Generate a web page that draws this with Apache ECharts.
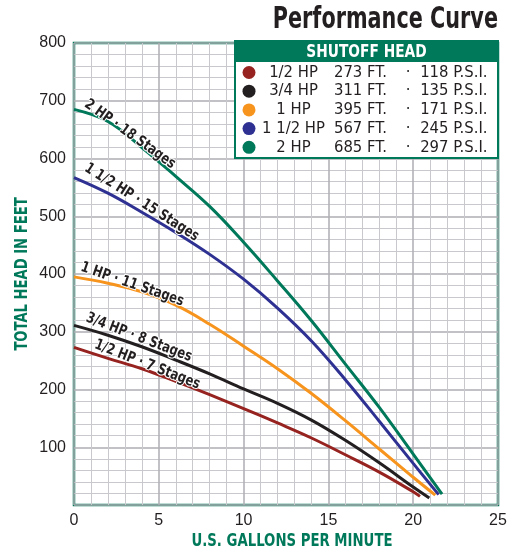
<!DOCTYPE html>
<html>
<head>
<meta charset="utf-8">
<script src="https://cdn.jsdelivr.net/npm/echarts@6/dist/echarts.min.js"></script>
<style>html,body{margin:0;padding:0;background:#fff}#c{width:508px;height:547px}</style>
</head>
<body>
<div id="c"></div>
<script>
// ---- data ----
const gpm = [0, 2, 4, 6, 8, 10, 12, 14, 16, 18, 20];
const headHalf    = [273, 254, 236, 214, 191, 167, 142, 116, 87, 57, 23];
const headThree4  = [311, 294, 274, 251, 227, 201, 176, 147, 112, 73, 31];
const headOne     = [395, 384, 369, 346, 313, 275, 236, 193, 146, 97, 48];
const headOneHalf = [567, 540, 507, 472, 434, 391, 341, 284, 217, 145, 72];
const headTwo     = [685, 664, 619, 569, 517, 455, 388, 319, 244, 169, 88];
const endGpm  = [20.4, 20.95, 21.3, 21.5, 21.7];
const endHead = [15, 12, 17, 18, 19];
const seriesNames = ['1/2 HP', '3/4 HP', '1 HP', '1 1/2 HP', '2 HP'];
const shutoffFt  = ['273 FT.', '311 FT.', '395 FT.', '567 FT.', '685 FT.'];
const shutoffPsi = ['118 P.S.I.', '135 P.S.I.', '171 P.S.I.', '245 P.S.I.', '297 P.S.I.'];
const curveLabels = ['1/2 HP · 7 Stages', '3/4 HP · 8 Stages', '1 HP · 11 Stages', '1 1/2 HP · 15 Stages', '2 HP · 18 Stages'];
const chartTitle = 'Performance Curve';
const legendTitle = 'SHUTOFF HEAD';
const xName = 'U.S. GALLONS PER MINUTE';
const yName = 'TOTAL HEAD IN FEET';
const xTicks = [0, 5, 10, 15, 20, 25];
const yTicks = [0, 100, 200, 300, 400, 500, 600, 700, 800];

// ---- styles / layout ----
const heads = [headHalf, headThree4, headOne, headOneHalf, headTwo];
const colors = ['#96231f', '#231f20', '#f7941d', '#2e3192', '#00785a'];
const GREEN = '#00785a';
const NARROW = '"Liberation Sans Narrow", "DejaVu Sans Condensed", sans-serif';
const labelPos = [ // [gpm, head, angle deg]
  [4.32, 243, 21.5], [3.83, 290, 21], [3.44, 382, 19], [3.99, 524, 32.5], [3.3, 642, 35.5]
];

const chart = echarts.init(document.getElementById('c'), null, {renderer: 'canvas'});

const series = heads.map((h, i) => {
  const pts = gpm.map((g, j) => [g, h[j]]);
  pts.push([endGpm[i], endHead[i]]);
  return {
    name: seriesNames[i], type: 'line', data: pts, smooth: 0.4, symbol: 'none',
    lineStyle: {color: colors[i], width: 3, cap: 'butt'},
    itemStyle: {color: colors[i]}, z: 3 + i
  };
});

const axisCommon = {
  axisLine: {show: false}, axisTick: {show: false},
  splitLine: {show: true, lineStyle: {color: '#aeaeb3', width: 1.5}},
  minorTick: {show: false, splitNumber: 5},
  minorSplitLine: {show: true, lineStyle: {color: '#c9c9cd', width: 1}}
};
const legendFont = {fontFamily: NARROW, fontSize: 16.5, color: '#231f20', lineHeight: 18};

chart.setOption({
  animation: false,
  backgroundColor: '#fff',
  grid: {left: 74, right: 10, top: 43, bottom: 42, containLabel: false, outerBoundsMode: 'none',
    show: true, borderColor: GREEN, borderWidth: 2.5, backgroundColor: 'transparent'},
  xAxis: Object.assign({
    type: 'value', min: xTicks[0], max: xTicks[xTicks.length - 1], interval: 5,
    axisLabel: {fontFamily: '"Liberation Sans", Arial, sans-serif', fontSize: 16, color: '#231f20', margin: 8}
  }, axisCommon),
  yAxis: Object.assign({
    type: 'value', min: yTicks[0], max: yTicks[yTicks.length - 1], interval: 100,
    axisLabel: {fontFamily: '"Liberation Sans", Arial, sans-serif', fontSize: 16, color: '#231f20', margin: 8,
      formatter: v => v === 0 ? '' : String(v)}
  }, axisCommon),
  legend: {
    orient: 'vertical', left: 242.5, top: 63.5, itemGap: 0.7, padding: 0,
    itemWidth: 13, itemHeight: 13, icon: 'circle',
    data: seriesNames,
    formatter: name => {
      const i = seriesNames.indexOf(name);
      return '{a|' + name + '}{b|' + shutoffFt[i] + '}{c|·}{d|' + shutoffPsi[i] + '}';
    },
    textStyle: Object.assign({
      rich: {
        a: Object.assign({width: 66, align: 'right'}, legendFont),
        b: Object.assign({width: 68, align: 'right'}, legendFont),
        c: Object.assign({width: 27, align: 'center'}, legendFont),
        d: Object.assign({width: 66, align: 'right'}, legendFont)
      }
    }, legendFont),
    z: 20
  },
  series: series
});

function drawExtras() {
  const ylo = chart.convertToPixel({gridIndex: 0}, [xTicks[0], yTicks[0]]);
  const yhi = chart.convertToPixel({gridIndex: 0}, [xTicks[xTicks.length - 1], yTicks[yTicks.length - 1]]);
  const g = [
    {type: 'text', x: 498, y: 35, scaleX: 0.77,
      style: {text: chartTitle, fill: '#231f20', font: 'bold 30px ' + NARROW, textAlign: 'right', textVerticalAlign: 'bottom'}, z: 12},
    {type: 'text', x: (ylo[0] + yhi[0]) / 2 + 6, y: 541, scaleX: 0.82,
      style: {text: xName, fill: GREEN, font: 'bold 18px ' + NARROW, textAlign: 'center', textVerticalAlign: 'middle'}, z: 12},
    {type: 'text', x: 23, y: (ylo[1] + yhi[1]) / 2, scaleX: 0.86, rotation: Math.PI / 2,
      style: {text: yName, fill: GREEN, font: 'bold 17px ' + NARROW, textAlign: 'center', textVerticalAlign: 'middle'}, z: 12},
    {type: 'rect', shape: {x: 235, y: 41, width: 263, height: 117}, style: {fill: '#fff', stroke: GREEN, lineWidth: 2}, z: 10},
    {type: 'rect', shape: {x: 235, y: 41, width: 263, height: 21}, style: {fill: GREEN}, z: 11},
    {type: 'text', x: 366.5, y: 52, scaleX: 0.85,
      style: {text: legendTitle, fill: '#fff', font: 'bold 18px ' + NARROW, textAlign: 'center', textVerticalAlign: 'middle'}, z: 12}
  ];
  labelPos.forEach((p, i) => {
    const px = chart.convertToPixel({gridIndex: 0}, [p[0], p[1]]);
    g.push({
      type: 'text', x: px[0], y: px[1], rotation: -p[2] * Math.PI / 180, scaleX: 0.86,
      style: {text: curveLabels[i], fill: '#231f20', font: 'bold 15px ' + NARROW,
        textAlign: 'center', textVerticalAlign: 'middle', stroke: '#fff', lineWidth: 2},
      z: 15
    });
  });
  chart.setOption({graphic: g});
}
drawExtras();
</script>
</body>
</html>
